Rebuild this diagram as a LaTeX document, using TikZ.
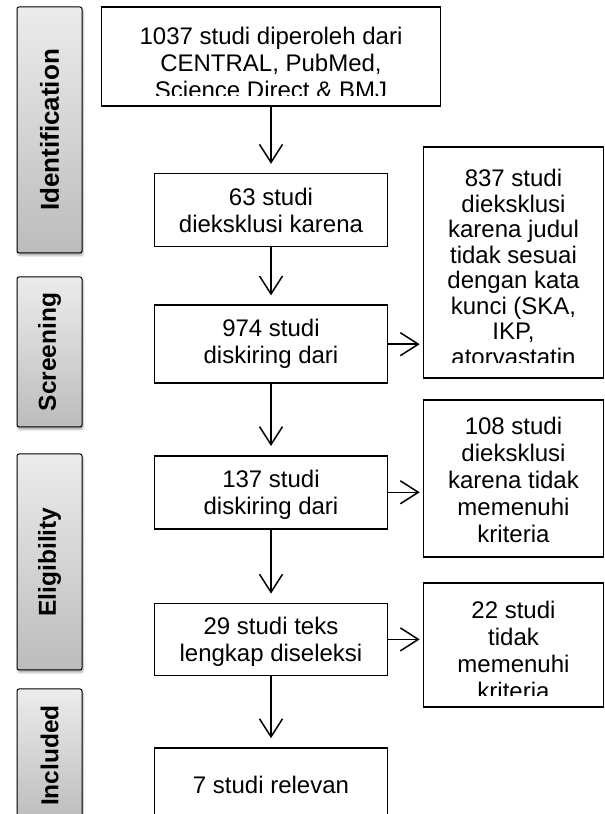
\documentclass[tikz,border=0pt]{standalone}
\usepackage{fontspec}
\setmainfont{Liberation Sans}
\usetikzlibrary{positioning,arrows.meta,shadows.blur}

\definecolor{stagetop}{RGB}{236,236,236}
\definecolor{stagebot}{RGB}{188,188,188}

\begin{document}
\begin{tikzpicture}[x=1pt,y=1pt,
	flowbox/.style={draw, line width=1.6pt, rectangle, inner sep=0pt, minimum width=233pt},
	sidebox/.style={draw, line width=1.6pt, rectangle, inner sep=0pt, minimum width=180pt},
	boxtext/.style={align=center, inner sep=0pt, font=\fontsize{24}{27}\selectfont},
	stage/.style={draw, line width=1pt, rounded corners=2pt, inner sep=0pt,
		top color=stagetop, bottom color=stagebot, minimum width=65pt,
		blur shadow={shadow xshift=1pt, shadow yshift=-2.5pt, shadow opacity=35, shadow blur radius=2pt},
		font=\bfseries\fontsize{24.5}{27}\selectfont},
	arr/.style={line width=1.5pt, -{Straight Barb[length=18pt,width=23pt,line width=1.5pt]}, shorten >=9pt},
	node distance=60pt]
	\useasboundingbox (0,0) rectangle (605,814);

	% stages
	\node[stage, minimum height=246pt, font=\bfseries\fontsize{26}{27}\selectfont] (ident) at (49.5,684) {\rotatebox{90}{Identification}};
	\node[stage, minimum height=150pt] (scr) at (49.5,462) {\rotatebox{90}{Screening}};
	\node[stage, minimum height=216pt] (eli) at (49.5,252) {\rotatebox{90}{Eligibility}};
	\node[stage, minimum height=133pt] (inc) at (49.5,58.5) {\rotatebox{90}{Included}};

	% main chain
	\node[flowbox, minimum width=339pt, minimum height=99pt] (found) at (271,757.5) {};
	\node[flowbox, minimum height=73pt] (dup) [below=66pt of found] {};
	\node[flowbox, minimum height=78pt] (screen) [below=57pt of dup] {};
	\node[flowbox, minimum height=73pt] (elig) [below=71pt of screen] {};
	\node[flowbox, minimum height=72pt] (full) [below=73pt of elig] {};
	\node[flowbox, minimum height=73pt] (incl) [below=71pt of full] {};

	% excluded
	\node[sidebox, minimum height=231pt] (excla) at (513.5,551.5) {};
	\node[sidebox, minimum height=157pt] (exclb) at (513.5,335.5) {};
	\node[sidebox, minimum height=124pt] (exclc) at (513.5,169) {};

	% texts, cut at the lower margin of each box
	\begin{scope}
		\clip ([yshift=11pt]found.south west) rectangle (found.north east);
		\node[boxtext, below=21pt of found.north] (foundtxt) {1037 studi diperoleh dari\\CENTRAL, PubMed,\\Science Direct \& BMJ};
	\end{scope}
	\begin{scope}
		\clip ([yshift=11pt]dup.south west) rectangle (dup.north east);
		\node[boxtext, below=15pt of dup.north] (duptxt) {63 studi\\dieksklusi karena};
	\end{scope}
	\begin{scope}
		\clip ([yshift=11pt]screen.south west) rectangle (screen.north east);
		\node[boxtext, below=15pt of screen.north] (screentxt) {974 studi\\diskiring dari};
	\end{scope}
	\begin{scope}
		\clip ([yshift=11pt]elig.south west) rectangle (elig.north east);
		\node[boxtext, below=15pt of elig.north] (eligtxt) {137 studi\\diskiring dari};
	\end{scope}
	\begin{scope}
		\clip ([yshift=11pt]full.south west) rectangle (full.north east);
		\node[boxtext, below=14pt of full.north] (fulltxt) {29 studi teks\\lengkap diseleksi};
	\end{scope}
	\node[boxtext] (incltxt) at (incl) {7 studi relevan};
	\begin{scope}
		\clip ([yshift=16pt]excla.south west) rectangle (excla.north east);
		\node[boxtext, below=23pt of excla.north, font=\fontsize{24}{25.5}\selectfont] (seltxta) {837 studi\\dieksklusi\\karena judul\\tidak sesuai\\dengan kata\\kunci (SKA,\\IKP,\\atorvastatin};
	\end{scope}
	\begin{scope}
		\clip ([yshift=11pt]exclb.south west) rectangle (exclb.north east);
		\node[boxtext, below=18pt of exclb.north] (seltxtb) {108 studi\\dieksklusi\\karena tidak\\memenuhi\\kriteria};
	\end{scope}
	\begin{scope}
		\clip ([yshift=12pt]exclc.south west) rectangle (exclc.north east);
		\node[boxtext, below=19pt of exclc.north] (seltxtc) {22 studi\\tidak\\memenuhi\\kriteria};
	\end{scope}

	% arrows
	\draw[arr] (found) -- (dup);
	\draw[arr] (dup) -- (screen);
	\draw[arr] (screen) -- (elig);
	\draw[arr] (elig) -- (full);
	\draw[arr] (full) -- (incl);
	\draw[arr, shorten >=3pt] (screen.east) -- (screen.east -| excla.west);
	\draw[arr, shorten >=3pt] (elig.east) -- (elig.east -| exclb.west);
	\draw[arr, shorten >=3pt] (full.east) -- (full.east -| exclc.west);
\end{tikzpicture}
\end{document}
